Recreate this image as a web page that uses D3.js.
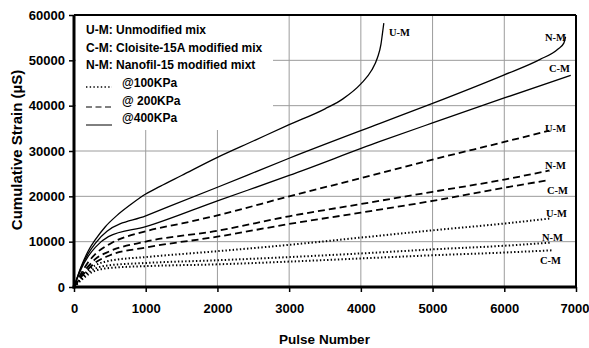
<!DOCTYPE html>
<html><head><meta charset="utf-8">
<script src="https://cdn.jsdelivr.net/npm/d3@7"></script>
<style>body{margin:0;background:#fff}svg{display:block}</style>
</head><body>
<script>
const xTicks = [0,1000,2000,3000,4000,5000,6000,7000];
const yTicks = [0,10000,20000,30000,40000,50000,60000];

// solid = @400KPa, dashed = @200KPa, dotted = @100KPa
const um400 = [[0,0],[100,4500],[200,8000],[300,10500],[437,13300],[600,15800],[800,18300],[1000,20500],[1200,22200],[1500,24600],[2000,28600],[2500,32200],[3000,35800],[3500,39300],[3750,41500],[4000,44800],[4150,47800],[4230,50500],[4280,53500],[4300,55800],[4320,58200]];
const nm400 = [[0,0],[100,4300],[200,7400],[300,9700],[460,12300],[1000,15700],[2000,22000],[3000,28400],[4268,36100],[5000,40500],[6000,46800],[6500,50200],[6750,52500],[6830,53800],[6855,55200]];
const cm400 = [[0,0],[100,4000],[200,6800],[300,8800],[480,11100],[1000,13300],[2000,19000],[3000,24600],[4268,32100],[5000,36200],[6000,41700],[6927,46700]];
const um200 = [[0,0],[100,3000],[200,5500],[300,7300],[500,9500],[1000,12300],[1500,14000],[2000,15800],[3000,20000],[4000,24000],[5000,28100],[6000,32000],[6630,34500]];
const nm200 = [[0,0],[100,2500],[200,4600],[300,6200],[500,7900],[1000,10000],[2000,12400],[3000,15600],[4000,18300],[5000,21000],[6000,23700],[6630,25700]];
const cm200 = [[0,0],[100,2200],[200,4000],[300,5400],[500,7000],[1000,8700],[2000,11100],[3000,13900],[4000,16400],[5000,19000],[6000,21900],[6630,23600]];
const um100 = [[0,0],[100,2000],[200,3700],[300,4800],[500,5800],[1000,6600],[2000,7900],[3000,9300],[4000,10900],[5000,12500],[6000,14000],[6630,15100]];
const nm100 = [[0,0],[100,1800],[200,3200],[300,4100],[500,4800],[1000,5300],[2000,5900],[3000,6600],[4000,7400],[5000,8300],[6000,9100],[6650,9800]];
const cm100 = [[0,0],[100,1500],[200,2800],[300,3600],[500,4200],[1000,4600],[2000,5000],[3000,5600],[4000,6300],[5000,7000],[6000,7600],[6680,8100]];

const legendLines = ["U-M: Unmodified mix","C-M: Cloisite-15A modified mix","N-M: Nanofil-15 modified mixt"];
const legendStyles = ["@100KPa","@ 200KPa","@400KPa"];

const W=589,H=348;
const svg=d3.select("body").append("svg").attr("width",W).attr("height",H);
const L=74,R=576,T=15,B=287;
const x=d3.scaleLinear().domain([0,7000]).range([L,R]);
const y=d3.scaleLinear().domain([0,60000]).range([B,T]);

// grid
const grid=svg.append("g").attr("stroke","#9c9c9c").attr("stroke-width",1);
grid.selectAll(".v").data(xTicks.slice(1,-1)).join("line").attr("x1",d=>x(d)).attr("x2",d=>x(d)).attr("y1",T).attr("y2",B);
grid.selectAll(".h").data(yTicks.slice(1,-1)).join("line").attr("x1",L).attr("x2",R).attr("y1",d=>y(d)).attr("y2",d=>y(d));

// legend box (white, covers grid)
svg.append("rect").attr("x",L+2).attr("y",T+1).attr("width",197).attr("height",114).attr("fill","#fff");

const line=d3.line().x(d=>x(d[0])).y(d=>y(d[1])).curve(d3.curveMonotoneX);
const series=[
 {d:um400,s:"solid"},{d:nm400,s:"solid"},{d:cm400,s:"solid"},
 {d:um200,s:"dash"},{d:nm200,s:"dash"},{d:cm200,s:"dash"},
 {d:um100,s:"dot"},{d:nm100,s:"dot"},{d:cm100,s:"dot"}];
const g=svg.append("g").attr("fill","none").attr("stroke","#000");
series.forEach(sr=>{
  const p=g.append("path").attr("d",line(sr.d));
  if(sr.s==="solid") p.attr("stroke-width",1.3);
  if(sr.s==="dash") p.attr("stroke-width",1.8).attr("stroke-dasharray","7,4");
  if(sr.s==="dot") p.attr("stroke-width",2).attr("stroke-dasharray","1.4,2.2");
});

// border top/right
svg.append("line").attr("x1",L).attr("x2",R).attr("y1",T).attr("y2",T).attr("stroke","#000").attr("stroke-width",2);
svg.append("line").attr("x1",R).attr("x2",R).attr("y1",T).attr("y2",B).attr("stroke","#000").attr("stroke-width",2);

// axes
const xa=svg.append("g").attr("transform",`translate(0,${B})`).call(d3.axisBottom(x).tickValues(xTicks).tickFormat(d3.format("d")).tickSize(5).tickPadding(12));
const ya=svg.append("g").attr("transform",`translate(${L},0)`).call(d3.axisLeft(y).tickValues(yTicks).tickFormat(d3.format("d")).tickSize(5).tickPadding(4));
[xa,ya].forEach(a=>{
  a.select(".domain").attr("stroke","#000").attr("stroke-width",3);
  a.selectAll(".tick line").attr("stroke","#000").attr("stroke-width",1.5);
  a.selectAll("text").attr("font-family","Liberation Sans, Arial, sans-serif").attr("font-weight","bold").attr("font-size","13px").attr("fill","#000");
});
xa.selectAll(".tick text").filter(d=>d===7000).attr("text-anchor","end").attr("x",13);
ya.select(".domain").attr("d",`M0,${B+1.5}V${T}`);
xa.select(".domain").attr("d",`M${L-1.5},0H${R}`);

// titles
svg.append("text").attr("x",324.5).attr("y",344).attr("text-anchor","middle").attr("font-family","Liberation Sans, Arial, sans-serif").attr("font-weight","bold").attr("font-size","13.5px").text("Pulse Number");
svg.append("text").attr("transform","translate(22,150) rotate(-90)").attr("text-anchor","middle").attr("font-family","Liberation Sans, Arial, sans-serif").attr("font-weight","bold").attr("font-size","15px").text("Cumulative Strain (µS)");

// legend text
const lf="Liberation Sans, Arial, sans-serif";
legendLines.forEach((t,i)=>{
  svg.append("text").attr("x",86).attr("y",34+i*17.5).attr("font-family",lf).attr("font-weight","bold").attr("font-size","12px").text(t);
});
legendStyles.forEach((t,i)=>{
  svg.append("text").attr("x",122).attr("y",87+i*17.5).attr("font-family",lf).attr("font-weight","bold").attr("font-size","12px").text(t);
});
const ls=svg.append("g").attr("stroke","#000").attr("fill","none");
ls.append("line").attr("x1",86).attr("x2",112).attr("y1",87).attr("y2",87).attr("stroke-width",1.6).attr("stroke-dasharray","1.4,2.3");
ls.append("line").attr("x1",86).attr("x2",112).attr("y1",107).attr("y2",107).attr("stroke-width",1).attr("stroke-dasharray","6,3.5");
ls.append("line").attr("x1",86).attr("x2",112).attr("y1",125).attr("y2",125).attr("stroke-width",1);

// series labels
const labels=[["U-M",389,36],["N-M",545,41],["C-M",549,72],["U-M",545,132],["N-M",545,169],["C-M",547,194],["U-M",546,217],["N-M",542,241],["C-M",540,264]];
svg.append("g").selectAll("text").data(labels).join("text").attr("x",d=>d[1]).attr("y",d=>d[2])
 .attr("font-family","Liberation Serif, Times New Roman, serif").attr("font-weight","bold").attr("font-size","10.5px").text(d=>d[0]);
</script>
</body></html>
